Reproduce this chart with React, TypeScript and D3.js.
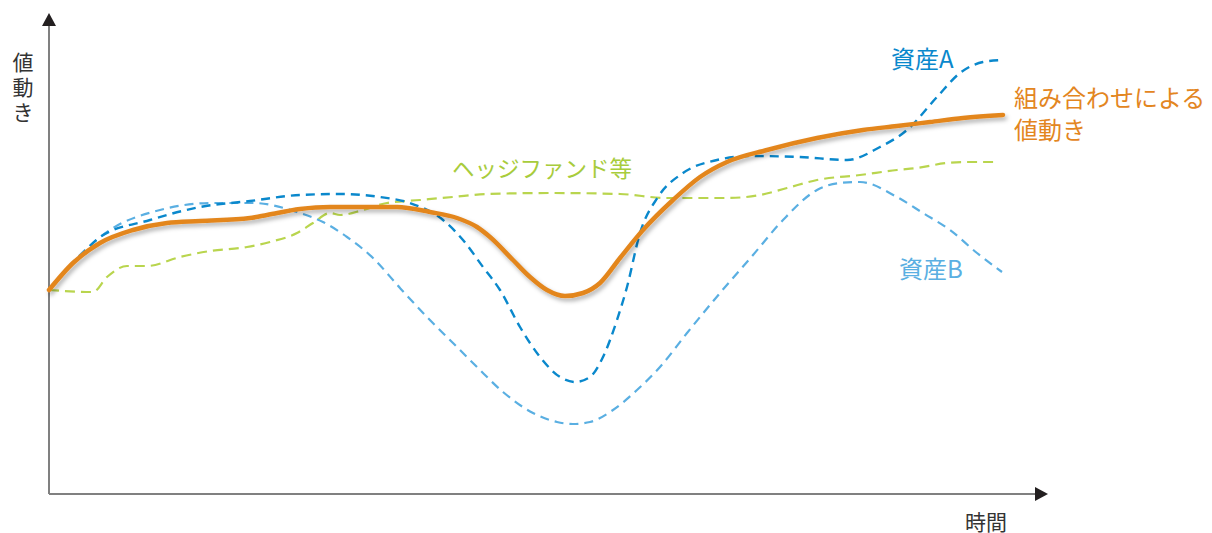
import React from "react";
import * as d3 from "d3";

// time (arbitrary units) and value (arbitrary units)
const assetATime = [0,34,51,101,151,201,251,291,331,361,394,414,434,451,471,491,511,526,541,554,568,578,591,609,634,668,701,751,798,831,858,888,911,934,953];
const assetAValue = [204,241,257,274,287,293,299,300,297,291,274,254,227,204,167,137,117,112,117,137,174,207,261,297,321,334,338,337,334,347,364,397,421,432,434];

const assetBTime = [0,31,61,111,164,204,248,274,298,324,351,378,404,428,454,484,508,524,541,564,588,611,638,671,704,734,768,791,811,848,874,901,928,953];
const assetBValue = [204,239,264,284,291,291,282,272,257,236,206,177,151,127,102,81,72,70,72,84,104,127,161,201,239,274,304,311,312,297,281,264,241,222];

const hedgeTime = [0,44,58,78,98,131,161,198,221,248,264,281,291,314,338,371,404,438,504,571,618,678,711,738,768,811,848,868,898,921,946];
const hedgeValue = [204,202,217,228,228,237,243,247,252,261,271,281,279,284,291,294,297,300,301,300,296,296,299,306,314,319,324,326,331,332,332];

const comboTime = [0,24,51,84,118,151,201,218,251,281,314,348,381,408,428,441,464,481,498,516,534,551,571,594,624,651,678,718,768,814,848,881,914,954];
const comboValue = [204,231,251,264,271,273,276,279,285,287,287,287,282,276,267,257,234,217,204,198,201,211,236,264,294,317,332,344,356,364,368,372,376,379];

const yAxisLabel = ["値", "動", "き"];
const xAxisLabel = "時間";
const labelAssetA = "資産A";
const labelAssetB = "資産B";
const labelHedge = "ヘッジファンド等";
const labelCombo = ["組み合わせによる", "値動き"];

const W = 1212;
const H = 533;
const FONT = "'Noto Sans CJK JP', 'Noto Sans', sans-serif";

export default function App() {
  const x = d3.scaleLinear().domain([0, 1000]).range([49, 1049]);
  const y = d3.scaleLinear().domain([0, 480]).range([494, 14]);

  const mk = (ts: number[], vs: number[]) =>
    d3
      .line<number>()
      .x((_, i) => x(ts[i]))
      .y((v) => y(v))
      .curve(d3.curveMonotoneX)(vs) || "";

  const x0 = x(0);
  const y0 = y(0);

  return (
    <svg
      width={W}
      height={H}
      style={{ position: "absolute", left: 0, top: 0, background: "#fff" }}
    >
      <defs>
        <filter id="shadow" x="-10%" y="-20%" width="120%" height="150%">
          <feDropShadow dx="2" dy="3" stdDeviation="2" floodColor="#000" floodOpacity="0.3" />
        </filter>
      </defs>

      {/* axes */}
      <line x1={x0} y1={y0} x2={x0} y2={24} stroke="#808080" strokeWidth={2} />
      <line x1={x0} y1={y0} x2={1036} y2={y0} stroke="#808080" strokeWidth={2} />
      <path d={`M${x0 - 7},${26} L${x0 + 7},${26} L${x0},${13} Z`} fill="#231f20" />
      <path d={`M1035,${y0 - 7} L1035,${y0 + 7} L1048,${y0} Z`} fill="#231f20" />

      {/* series */}
      <path d={mk(hedgeTime, hedgeValue)} fill="none" stroke="#b9d54e" strokeWidth={2.2} strokeDasharray="10 6" />
      <path d={mk(assetBTime, assetBValue)} fill="none" stroke="#5aafe2" strokeWidth={2.2} strokeDasharray="9 6" />
      <path d={mk(assetATime, assetAValue)} fill="none" stroke="#0a88cc" strokeWidth={2.4} strokeDasharray="9 6" />
      <path
        d={mk(comboTime, comboValue)}
        fill="none"
        stroke="#e3861f"
        strokeWidth={4.5}
        strokeLinecap="round"
        strokeLinejoin="round"
        filter="url(#shadow)"
      />

      {/* axis labels */}
      {yAxisLabel.map((c, i) => (
        <text
          key={i}
          x={23}
          y={61 + i * 25}
          fontFamily={FONT}
          fontSize={21}
          fill="#333"
          textAnchor="middle"
          dominantBaseline="central"
        >
          {c}
        </text>
      ))}
      <text x={986} y={530} fontFamily={FONT} fontSize={21} fill="#333" textAnchor="middle">
        {xAxisLabel}
      </text>

      {/* series labels */}
      <text x={891} y={68} fontFamily={FONT} fontSize={24} fill="#0a88cc">
        {labelAssetA}
      </text>
      <text x={899} y={278} fontFamily={FONT} fontSize={24} fill="#5aafe2">
        {labelAssetB}
      </text>
      <text x={452} y={177} fontFamily={FONT} fontSize={22.5} fill="#a8cc3c">
        {labelHedge}
      </text>
      {labelCombo.map((l, i) => (
        <text key={i} x={1014} y={107 + i * 32} fontFamily={FONT} fontSize={24} fill="#e3861f">
          {l}
        </text>
      ))}
    </svg>
  );
}
